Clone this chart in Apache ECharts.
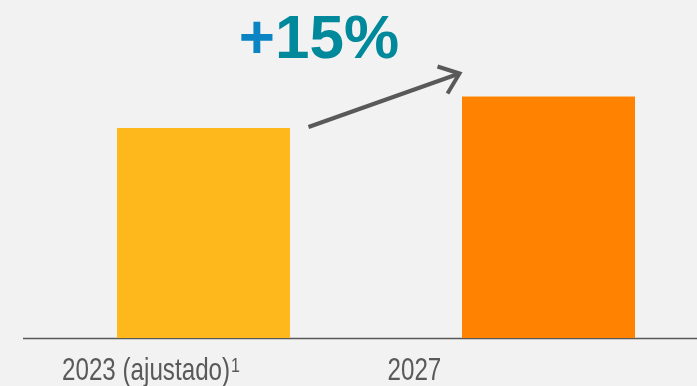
<!DOCTYPE html>
<html>
<head>
<meta charset="utf-8">
<script src="https://cdn.jsdelivr.net/npm/echarts@6/dist/echarts.min.js"></script>
<style>
  html, body { margin: 0; padding: 0; background: #f2f2f2; }
  #chart { width: 697px; height: 386px; }
</style>
</head>
<body>
<div id="chart"></div>
<script>
// Categories and values
const categories = ['2023 (ajustado)', '2027'];
const footnotes = ['1', ''];
const values = [100, 115];
const barColors = ['#FFB81C', '#FF8300'];
const growthLabel = ['+', '15%'];

const chart = echarts.init(document.getElementById('chart'), null, { renderer: 'canvas' });

const font = '"Liberation Sans", Arial, sans-serif';

chart.setOption({
  backgroundColor: '#f2f2f2',
  animation: false,
  grid: { left: 31, width: 690, top: 2, bottom: 48, containLabel: false, outerBoundsMode: 'none' },
  xAxis: {
    type: 'category',
    data: categories,
    axisLine: { show: false },
    axisTick: { show: false },
    axisLabel: { show: false }
  },
  yAxis: {
    type: 'value',
    min: 0,
    max: 160,
    show: false,
    splitLine: { show: false }
  },
  series: [{
    type: 'bar',
    barWidth: 173,
    data: values.map((v, i) => ({ value: v, itemStyle: { color: barColors[i] } }))
  }]
});

// Baseline, category labels and growth arrow, placed from the axis scales
const base0 = chart.convertToPixel({ seriesIndex: 0 }, [0, 0]);
const top0 = chart.convertToPixel({ seriesIndex: 0 }, [0, values[0]]);
const top1 = chart.convertToPixel({ seriesIndex: 0 }, [1, values[1]]);

const start = [top0[0] + 105, top0[1] - 1];
const tip = [top1[0] - 89, top1[1] - 23];

// Condensed category labels (tall, narrow glyphs)
const labelShift = [141.5, 161];
const labelGraphics = categories.map((c, i) => {
  const center = chart.convertToPixel({ seriesIndex: 0 }, [i, 0]);
  let text = '{m|' + c + '}';
  if (footnotes[i]) text += '{s|' + footnotes[i] + '}';
  return {
    type: 'text',
    x: center[0] - labelShift[i],
    y: base0[1] + 33,
    scaleY: 1.28,
    style: {
      text: text,
      align: 'left',
      verticalAlign: 'middle',
      rich: {
        m: { fontFamily: font, fontSize: 24.2, fill: '#595959' },
        s: { fontFamily: font, fontSize: 16, lineHeight: 8, fill: '#595959', verticalAlign: 'top', padding: [0, 0, 0, 1] }
      }
    }
  };
});

chart.setOption({
  graphic: [
    {
      type: 'line',
      shape: { x1: 23, y1: Math.round(base0[1]) + 0.5, x2: 697, y2: Math.round(base0[1]) + 0.5 },
      style: { stroke: '#595959', lineWidth: 1.3 }
    },
    {
      type: 'line',
      shape: { x1: start[0], y1: start[1], x2: tip[0], y2: tip[1] },
      style: { stroke: '#595959', lineWidth: 4 }
    },
    {
      type: 'polyline',
      shape: { points: [[tip[0] - 22, tip[1] - 7], tip, [tip[0] - 12, tip[1] + 20]] },
      style: { stroke: '#595959', lineWidth: 4, fill: null, lineJoin: 'miter' }
    },
    {
      type: 'text',
      x: 319,
      y: 41,
      style: {
        text: '{p|' + growthLabel[0] + '}{n|' + growthLabel[1] + '}',
        align: 'center',
        verticalAlign: 'middle',
        rich: {
          p: { fontFamily: font, fontWeight: 'bold', fontSize: 62, fill: '#0B84C4' },
          n: { fontFamily: font, fontWeight: 'bold', fontSize: 62, fill: '#00889B' }
        }
      }
    }
  ].concat(labelGraphics)
});
</script>
</body>
</html>
